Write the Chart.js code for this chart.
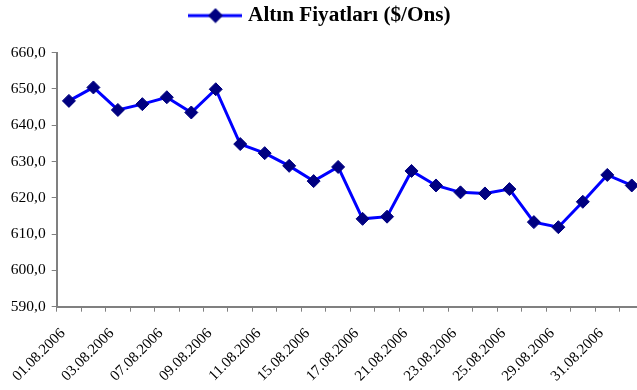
<!DOCTYPE html>
<html>
<head>
<meta charset="utf-8">
<script src="https://cdn.jsdelivr.net/npm/chart.js@4/dist/chart.umd.min.js"></script>
<style>
  html, body { margin: 0; padding: 0; background: #fff; overflow: hidden; width: 637px; height: 390px; }
  #wrap { width: 644px; height: 390px; }
</style>
</head>
<body>
<div id="wrap"><canvas id="c" width="644" height="390"></canvas></div>
<script>
const seriesName = 'Altın Fiyatları ($/Ons)';
const dates = ['01.08.2006','02.08.2006','03.08.2006','04.08.2006','07.08.2006','08.08.2006','09.08.2006','10.08.2006','11.08.2006','14.08.2006','15.08.2006','16.08.2006','17.08.2006','18.08.2006','21.08.2006','22.08.2006','23.08.2006','24.08.2006','25.08.2006','28.08.2006','29.08.2006','30.08.2006','31.08.2006','01.09.2006'];
const prices = [646.7, 650.4, 644.2, 645.8, 647.7, 643.5, 649.9, 634.8, 632.3, 628.8, 624.6, 628.5, 614.2, 614.8, 627.4, 623.4, 621.5, 621.2, 622.4, 613.3, 611.9, 618.9, 626.3, 623.4];
const yMin = 590, yMax = 660, yStep = 10;

const LINE = '#0000FF', MARK = '#000080', AXIS = '#808080';
const FONT = '"Liberation Serif", "Times New Roman", serif';

// legend symbol: line with diamond
const sym = document.createElement('canvas');
sym.width = 54; sym.height = 16;
(function(){
  const g = sym.getContext('2d');
  g.strokeStyle = LINE; g.lineWidth = 3;
  g.beginPath(); g.moveTo(0, 8); g.lineTo(54, 8); g.stroke();
  g.fillStyle = MARK;
  g.beginPath(); g.moveTo(27, 0.5); g.lineTo(34.5, 8); g.lineTo(27, 15.5); g.lineTo(19.5, 8); g.closePath(); g.fill();
})();

const legendToTop = {
  id: 'legendToTop',
  afterLayout(chart) {
    const lg = chart.legend;
    if (!lg) return;
    const h = lg.bottom - lg.top;
    lg.top = -1;
    lg.bottom = lg.top + h;
  }
};

new Chart(document.getElementById('c'), {
  type: 'line',
  plugins: [legendToTop],
  data: {
    labels: dates,
    datasets: [{
      label: seriesName,
      data: prices,
      borderColor: LINE,
      borderWidth: 3,
      tension: 0,
      fill: false,
      pointStyle: 'rectRot',
      pointRadius: 6.5,
      pointBackgroundColor: MARK,
      pointBorderColor: MARK,
      pointBorderWidth: 1,
      clip: false
    }]
  },
  options: {
    responsive: false,
    animation: false,
    devicePixelRatio: 1,
    layout: { padding: 0, autoPadding: false },
    plugins: {
      tooltip: { enabled: false },
      legend: {
        position: 'top',
        labels: {
          usePointStyle: true,
          pointStyleWidth: 44,
          padding: 6,
          color: '#000',
          font: { family: FONT, size: 21.2, weight: 'bold' },
          generateLabels: (chart) => [{
            text: seriesName,
            pointStyle: sym,
            fillStyle: MARK,
            strokeStyle: MARK,
            lineWidth: 0,
            hidden: false,
            datasetIndex: 0,
            fontColor: '#000'
          }]
        }
      }
    },
    scales: {
      x: {
        type: 'category',
        offset: true,
        grid: { offset: true, drawOnChartArea: false, drawTicks: true, tickLength: 5, color: AXIS, lineWidth: 1 },
        border: { display: true, color: AXIS, width: 2 },
        ticks: {
          autoSkip: false,
          maxRotation: 45,
          minRotation: 45,
          padding: 13,
          labelOffset: -6,
          color: '#000',
          font: { family: FONT, size: 15 },
          callback: function(val, idx) { return idx % 2 === 0 ? dates[idx] : ''; }
        },
        afterFit: (s) => { s.height = 83.3; s.paddingLeft = 0; s.paddingRight = 0; }
      },
      y: {
        min: yMin,
        max: yMax,
        grid: { drawOnChartArea: false, drawTicks: true, tickLength: 5, color: AXIS, lineWidth: 1 },
        border: { display: true, color: AXIS, width: 2 },
        ticks: {
          stepSize: yStep,
          padding: 6,
          color: '#000',
          font: { family: FONT, size: 15.5 },
          callback: (v) => Number(v).toFixed(1).replace('.', ',')
        },
        afterFit: (s) => { s.width = 56.7; s.paddingTop = 52.6; }
      }
    }
  }
});
</script>
</body>
</html>
